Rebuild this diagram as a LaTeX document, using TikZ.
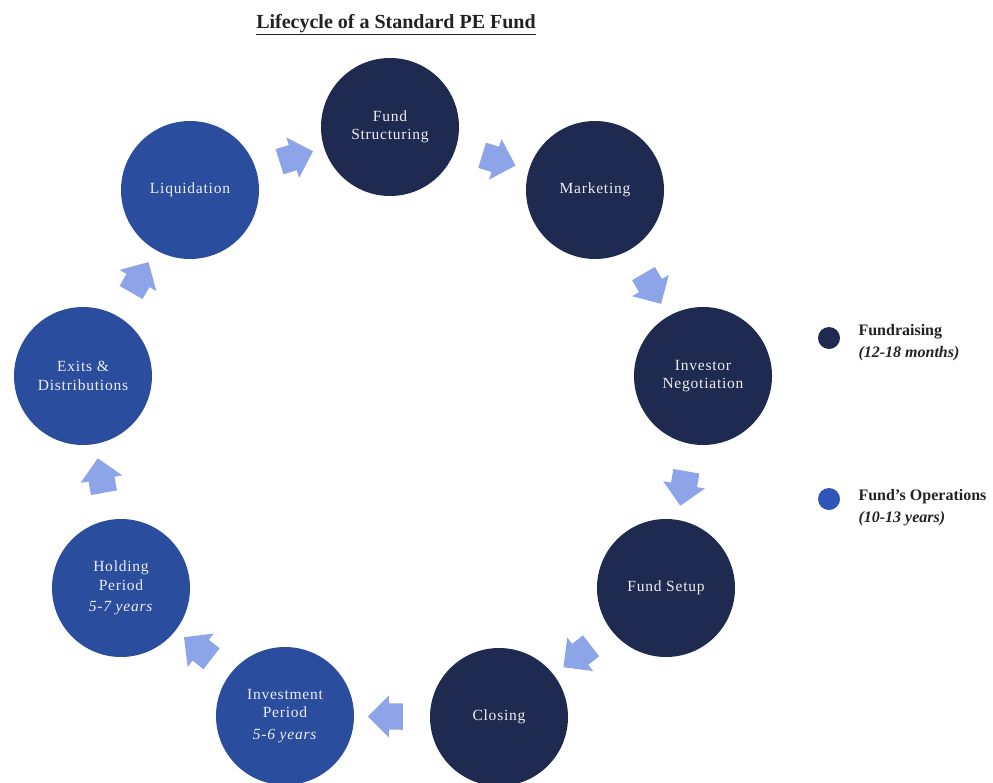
\documentclass[tikz,border=0pt]{standalone}
\usepackage{fontspec}
\setmainfont{Liberation Serif}
\newfontfamily\stagefont[LetterSpace=5]{Liberation Serif}
\usetikzlibrary{shapes.arrows}

\definecolor{navy}{HTML}{1F2A50}
\definecolor{opsblue}{HTML}{2B4D9E}
\definecolor{dotblue}{HTML}{2E55B8}
\definecolor{flowblue}{HTML}{8DA4E8}
\definecolor{stagetext}{HTML}{EDEDF2}
\definecolor{ink}{HTML}{222222}

\begin{document}
\begin{tikzpicture}[x=1pt,y=-1pt,
  stage/.style={circle, minimum size=138pt, inner sep=0pt, text=stagetext,
    align=center, font=\stagefont\fontsize{15.5}{18.5}\selectfont},
  raising/.style={stage, fill=navy},
  operating/.style={stage, fill=opsblue},
  flow/.style={single arrow, fill=flowblue, draw=none, minimum height=35pt,
    minimum width=42pt, single arrow head extend=8pt, inner xsep=0pt,
    inner ysep=13pt, sloped, allow upside down, pos=0.5},
  legenddot/.style={circle, minimum size=22pt, inner sep=0pt},
  legendtext/.style={anchor=base west, text=ink, font=\fontsize{16}{20}\selectfont\bfseries}
]
\useasboundingbox (0,0) rectangle (993,782);

% title
\node[anchor=base, text=ink, font=\fontsize{20}{24}\selectfont\bfseries] (title)
  at (396,28) {\underline{Lifecycle of a Standard PE Fund}};

\begin{scope}
\clip (0,0) rectangle (993,782);
% fundraising stages
\node[raising] (struct) at (390,127) {Fund\\Structuring};
\node[raising] (market) at (595,190) {Marketing};
\node[raising] (negot)  at (703,376) {Investor\\Negotiation};
\node[raising] (setup)  at (666,588) {Fund Setup};
\node[raising] (close)  at (499,717) {Closing};
% operating stages
\node[operating] (invest) at (285,716) {Investment\\Period\\[3pt]\textit{5-6 years}};
\node[operating] (hold)   at (121,588) {Holding\\Period\\[3pt]\textit{5-7 years}};
\node[operating] (exits)  at (83,376)  {Exits \&\\Distributions};
\node[operating] (liquid) at (190,190) {Liquidation};

% block arrows between consecutive stages
\path (liquid) -- node[flow] {} (struct);
\path (struct) -- node[flow] {} (market);
\path (market) -- node[flow] {} (negot);
\path (negot)  -- node[flow] {} (setup);
\path (setup)  -- node[flow] {} (close);
\path (close)  -- node[flow] {} (invest);
\path (invest) -- node[flow] {} (hold);
\path (hold)   -- node[flow] {} (exits);
\path (exits)  -- node[flow] {} (liquid);
\end{scope}

% legend
\node[legenddot, fill=navy] (dotraise) at (829,338) {};
\node[legendtext] (raisename) at (855,335) {Fundraising};
\node[legendtext] (raiseterm) at (855,357) {\textit{(12-18 months)}};
\node[legenddot, fill=dotblue] (dotops) at (829,499) {};
\node[legendtext] (opsname) at (855,500) {Fund's Operations};
\node[legendtext] (opsterm) at (855,522) {\textit{(10-13 years)}};
\end{tikzpicture}
\end{document}
